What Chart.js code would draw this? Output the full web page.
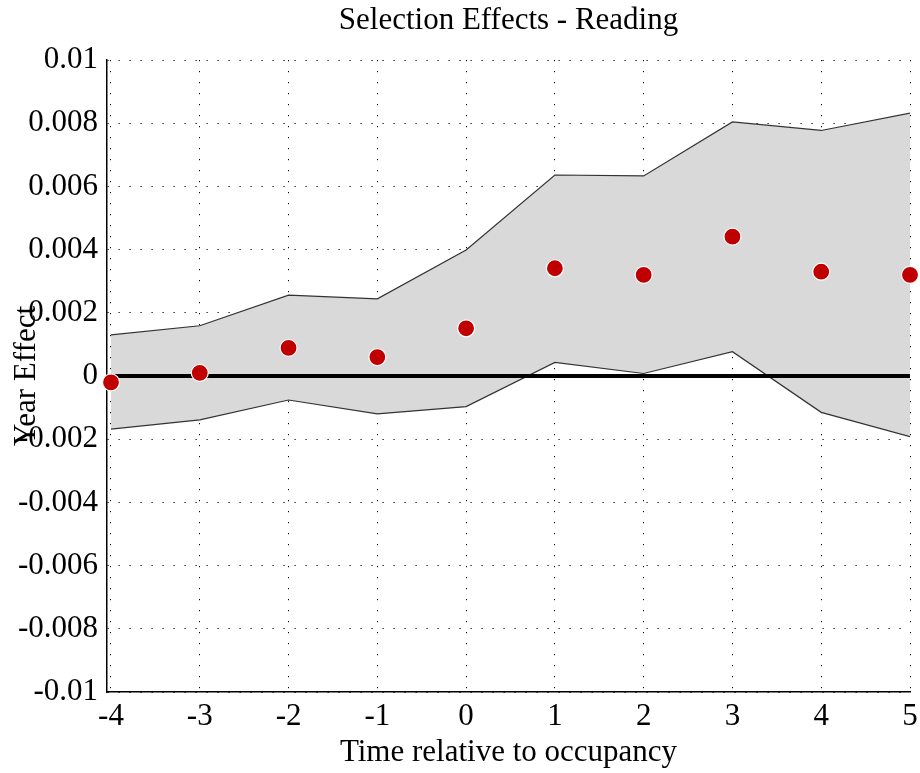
<!DOCTYPE html>
<html>
<head>
<meta charset="utf-8">
<script src="https://cdn.jsdelivr.net/npm/chart.js@4"></script>
<style>
  html, body { margin: 0; padding: 0; background: #fff; }
  #wrap { width: 920px; height: 773px; }
</style>
</head>
<body>
<div id="wrap"><canvas id="chart"></canvas></div>
<script>
// values
const periods = [-4, -3, -2, -1, 0, 1, 2, 3, 4, 5];
const estimate = [-0.0002, 0.0001, 0.00089, 0.0006, 0.00151, 0.00341, 0.0032, 0.00441, 0.0033, 0.0032];
const upperBand = [0.0013, 0.00159, 0.00256, 0.00244, 0.00399, 0.00636, 0.00633, 0.00804, 0.00777, 0.00832];
const lowerBand = [-0.00168, -0.00139, -0.00076, -0.0012, -0.00097, 0.00043, 0.00008, 0.00077, -0.00115, -0.00192];
const yTicks = [-0.01, -0.008, -0.006, -0.004, -0.002, 0, 0.002, 0.004, 0.006, 0.008, 0.01];

const FONT = '"Liberation Serif", "Times New Roman", serif';
const toXY = (vals) => vals.map((v, i) => ({ x: periods[i], y: v }));

// zero line (above the band, under the dots) + titles placed like the original
const extras = {
  id: 'extras',
  afterDatasetDraw(chart, args) {
    if (args.index !== 1) return;
    const { ctx, chartArea, scales } = chart;
    const y0 = scales.y.getPixelForValue(0);
    ctx.save();
    ctx.strokeStyle = '#000';
    ctx.lineWidth = 4;
    ctx.beginPath();
    ctx.moveTo(chartArea.left, y0);
    ctx.lineTo(chartArea.right, y0);
    ctx.stroke();
    ctx.restore();
  },
  afterDraw(chart) {
    const { ctx, chartArea, scales } = chart;
    const cx = (chartArea.left + chartArea.right) / 2;
    ctx.save();
    ctx.fillStyle = '#000';
    ctx.font = '31px ' + FONT;
    ctx.textAlign = 'center';
    ctx.textBaseline = 'alphabetic';
    ctx.fillText('Selection Effects - Reading', cx, 29);
    ctx.fillText('Time relative to occupancy', cx, 761);
    ctx.translate(35, scales.y.getPixelForValue(0));
    ctx.rotate(-Math.PI / 2);
    ctx.fillText('Year Effect', 0, 0);
    ctx.restore();
  }
};

const gridStyle = {
  color: '#000',
  lineWidth: 1,
  drawTicks: false
};
const borderStyle = { display: true, color: '#000', width: 1.5, dash: [1.2, 9.8] };

new Chart(document.getElementById('chart'), {
  type: 'line',
  data: {
    datasets: [
      {
        label: 'upper',
        data: toXY(upperBand),
        borderColor: '#333',
        borderWidth: 1.2,
        backgroundColor: '#d9d9d9',
        pointRadius: 0,
        fill: '+1',
        tension: 0,
        order: 3
      },
      {
        label: 'lower',
        data: toXY(lowerBand),
        borderColor: '#333',
        borderWidth: 1.2,
        pointRadius: 0,
        fill: false,
        tension: 0,
        order: 2
      },
      {
        label: 'estimate',
        data: toXY(estimate),
        showLine: false,
        pointRadius: 8.5,
        pointBackgroundColor: '#c00000',
        pointBorderColor: '#fff',
        pointBorderWidth: 1.2,
        clip: false,
        order: 1
      }
    ]
  },
  options: {
    responsive: true,
    maintainAspectRatio: false,
    animation: false,
    layout: { padding: { left: 0, right: 10, top: 60, bottom: 0 } },
    plugins: {
      legend: { display: false },
      tooltip: { enabled: false },
      title: { display: false }
    },
    scales: {
      x: {
        type: 'linear',
        min: -4.045,
        max: 5,
        afterBuildTicks: (scale) => { scale.ticks = periods.map(v => ({ value: v })); },
        afterFit: (scale) => {
          scale.height = 81;
          scale.paddingLeft = 0;
          scale.paddingRight = 0;
        },
        grid: gridStyle,
        border: borderStyle,
        ticks: {
          color: '#000',
          padding: 6,
          font: { family: FONT, size: 31 },
          callback: (v) => String(v)
        }
      },
      y: {
        min: -0.01,
        max: 0.01,
        afterBuildTicks: (scale) => { scale.ticks = yTicks.map(v => ({ value: v })); },
        afterFit: (scale) => {
          scale.width = 107;
          scale.paddingTop = 0;
          scale.paddingBottom = 0;
        },
        grid: gridStyle,
        border: borderStyle,
        ticks: {
          color: '#000',
          padding: 9,
          font: { family: FONT, size: 31 },
          callback: (v) => String(Number(v.toFixed(3)))
        }
      }
    }
  },
  plugins: [extras]
});
</script>
</body>
</html>
